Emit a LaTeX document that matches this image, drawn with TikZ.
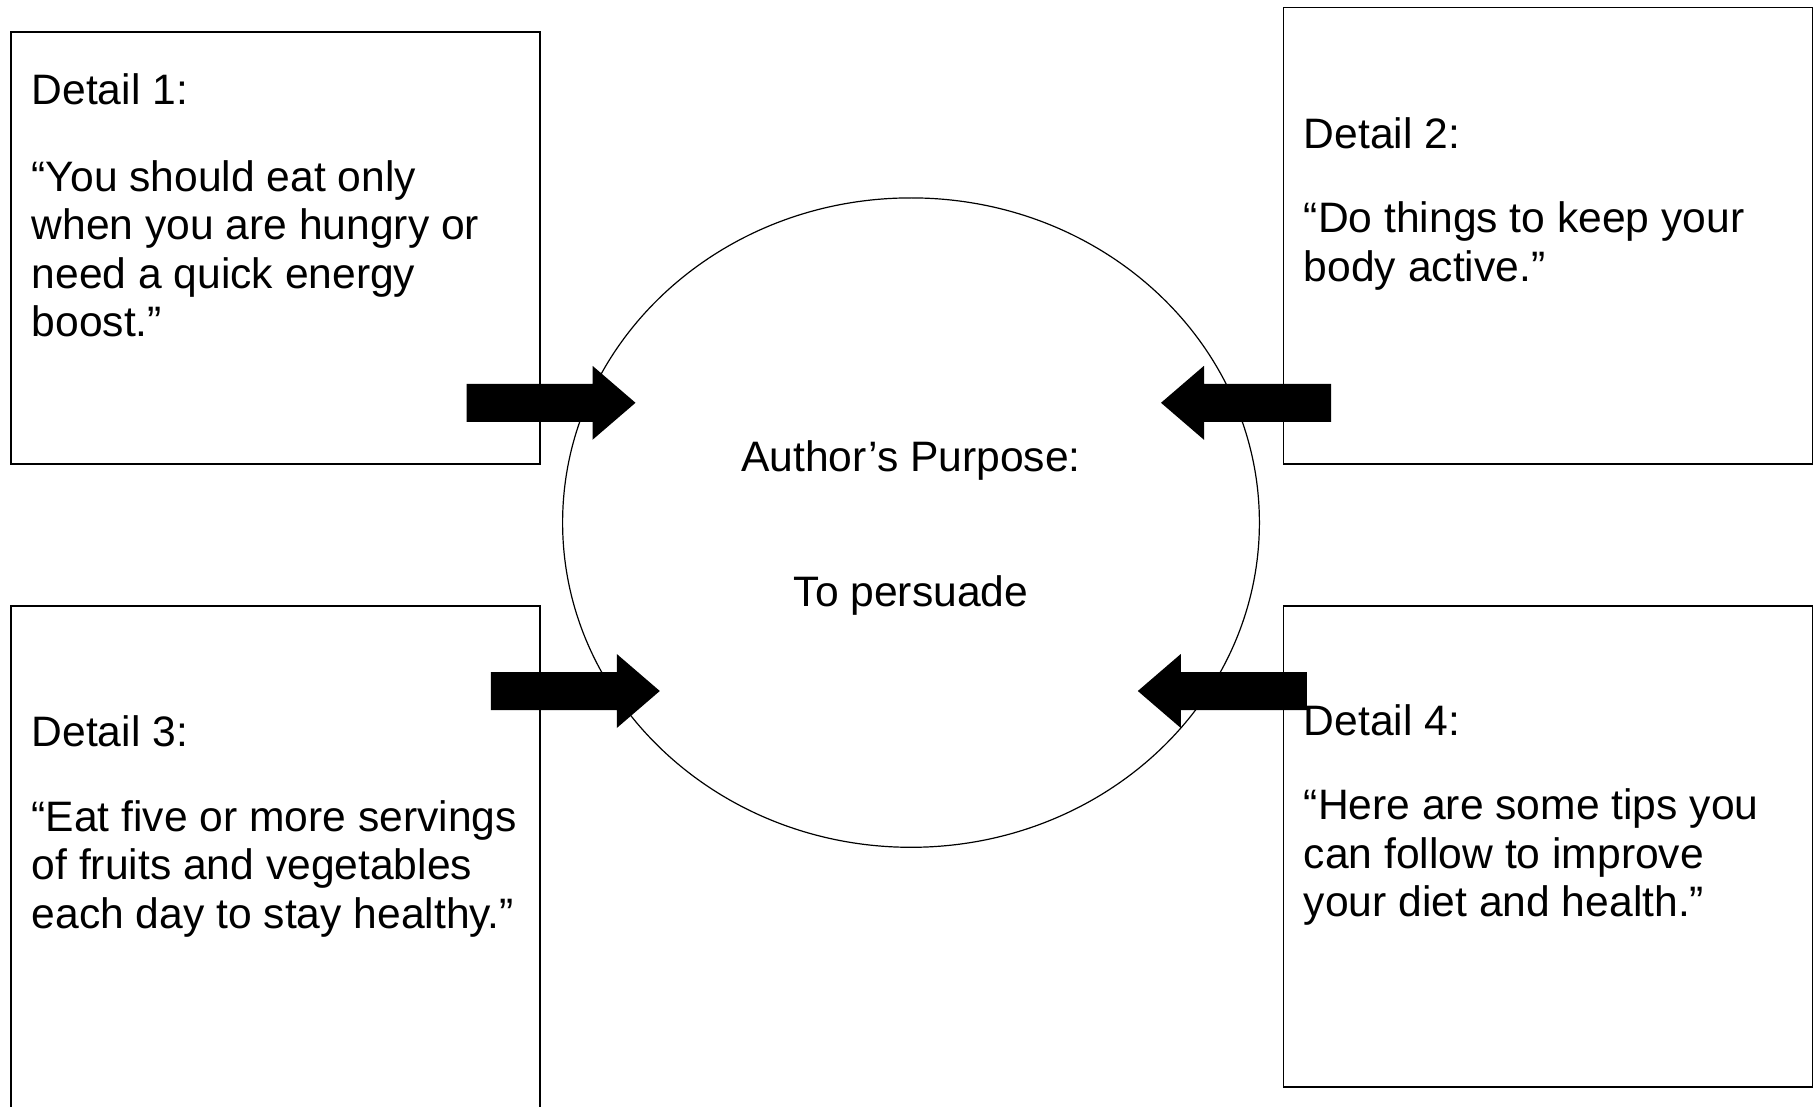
\documentclass[tikz,border=0pt]{standalone}
\usepackage{fontspec}
\setmainfont{Liberation Sans}
\usetikzlibrary{calc}
\newcommand\fatarrow[3]{% tail, tip, signed head length
  \fill ($(#1)+(0,19)$) -- ($(#2)+(#3,19)$) -- ($(#2)+(#3,37)$) -- (#2)
        -- ($(#2)+(#3,-37)$) -- ($(#2)+(#3,-19)$) -- ($(#1)+(0,-19)$) -- cycle;}
\tikzset{
  detailbox/.style={draw, line width=0.75pt, anchor=north west, inner sep=0pt, minimum width=264.5pt},
  txt/.style={anchor=base west, inner sep=0pt, font=\fontsize{21.3pt}{24.3pt}\selectfont},
  ctxt/.style={anchor=base, inner sep=0pt, font=\fontsize{21.3pt}{24.3pt}\selectfont}
}
\begin{document}
\begin{tikzpicture}[x=0.5pt, y=-0.5pt]
\useasboundingbox (0,0) rectangle (1815,1107);
\clip (0,0) rectangle (1815,1107);
\fill[white] (0,0) rectangle (1815,1107);

% boxes
\node[detailbox, minimum height=215.85pt] (b1) at (10.4,31.3) {};
\node[detailbox, minimum height=228pt] (b2) at (1282.5,7) {};
\node[detailbox, minimum height=260pt] (b3) at (10.4,605) {};
\node[detailbox, minimum height=240.5pt] (b4) at (1282.5,605) {};

% central ellipse
\draw[line width=0.6pt] (911,522.6) ellipse [x radius=348.4, y radius=324.7];
\coordinate (c) at (911,522.6);

% texts
\node[txt] (d1) at (31.3,104.4) {Detail 1:};
\node[txt] (q1) at (31.3,191.2) {\vtop{\hbox{“You should eat only}\hbox{when you are hungry or}\hbox{need a quick energy}\hbox{boost.”}}};

\node[txt] (d2) at (1303.5,148.3) {Detail 2:};
\node[txt] (q2) at (1303.5,232.8) {\vtop{\hbox{“Do things to keep your}\hbox{body active.”}}};

\node[txt] (d3) at (31.3,746.5) {Detail 3:};
\node[txt] (q3) at (31.3,831.3) {\vtop{\hbox{“Eat five or more servings}\hbox{of fruits and vegetables}\hbox{each day to stay healthy.”}}};

\node[txt] (d4) at (1303.5,735.2) {Detail 4:};
\node[txt] (q4) at (1303.5,819.7) {\vtop{\hbox{“Here are some tips you}\hbox{can follow to improve}\hbox{your diet and health.”}}};

\node[ctxt] (p1) at (911,471.8) {Author’s Purpose:};
\node[ctxt] (p2) at (911,606.7) {To persuade};

% block arrows
\coordinate (a1t) at (466.5,402.8); \coordinate (a1h) at (635.5,402.8);
\coordinate (a2t) at (1331,402.8);  \coordinate (a2h) at (1161,402.8);
\coordinate (a3t) at (490.8,691);   \coordinate (a3h) at (659.8,691);
\coordinate (a4t) at (1306.8,691);  \coordinate (a4h) at (1137.8,691);
\fatarrow{a1t}{a1h}{-43}
\fatarrow{a2t}{a2h}{43}
\fatarrow{a3t}{a3h}{-43}
\fatarrow{a4t}{a4h}{43}
\end{tikzpicture}
\end{document}
